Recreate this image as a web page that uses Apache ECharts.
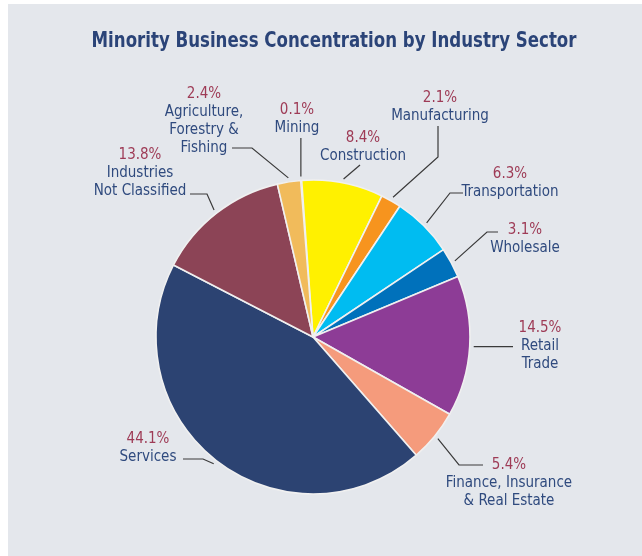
<!DOCTYPE html>
<html><head><meta charset="utf-8">
<script src="https://cdn.jsdelivr.net/npm/echarts@6/dist/echarts.min.js"></script>
<style>
html,body{margin:0;padding:0;background:#ffffff;}
#bg{position:absolute;left:8px;top:4px;width:634px;height:552px;background:#e4e7ec;}
#main{position:absolute;left:0;top:0;width:642px;height:556px;}
</style></head>
<body><div id="bg"></div><div id="main"></div>
<script>
// ---- data ----
const categories = ['Mining', 'Construction', 'Manufacturing', 'Transportation', 'Wholesale',
  'Retail\nTrade', 'Finance, Insurance\n& Real Estate', 'Services', 'Industries\nNot Classified',
  'Agriculture,\nForestry &\nFishing'];
const shares = [0.1, 8.4, 2.1, 6.3, 3.1, 14.5, 5.4, 44.1, 13.8, 2.4];
const titleText = 'Minority Business Concentration by Industry Sector';

// ---- styles ----
const sliceColors = ['#ee1d25', '#fff100', '#f7941e', '#00bcf1', '#0071bb',
  '#8d3c96', '#f59b7c', '#2c4372', '#8c4456', '#f1bb5b'];
const FONT = "'DejaVu Sans Condensed', 'Liberation Sans', sans-serif";
const LH = 18;
const FS = 15;
const CENTER = [313, 337];
const RADIUS = 157;

// ---- label layout (label block centre x, first line centre y) ----
const labelBoxes = [[297, 110], [363, 138], [440, 98], [510, 174], [525, 230],
  [540, 328], [509, 465], [148, 439], [140, 155], [204, 94]];
// guide line points after the slice end point (null = same coordinate as slice point)
const guides = [
  [[null, 138]],
  [[360, 165]],
  [[438, 157], [438, 126]],
  [[450, 193], [463, 193]],
  [[487, 232], [498, 232]],
  [[513, null]],
  [[459, 465], [483, 465]],
  [[203, 459], [183, 459]],
  [[207, 194], [190, 194]],
  [[252, 148], [232, 148]]
];

const total = shares.reduce((a, b) => a + b, 0);
const START = 94.5;
function midDir(i) {
  let before = 0;
  for (let k = 0; k < i; k++) before += shares[k];
  const ang = (START - (before + shares[i] / 2) / total * 360) * Math.PI / 180;
  return [Math.cos(ang), -Math.sin(ang)];
}

const chart = echarts.init(document.getElementById('main'), null, {renderer: 'canvas'});
chart.setOption({
  animation: false,
  graphic: [{
    type: 'text', x: 334, y: 42, scaleX: 0.88, scaleY: 1,
    style: {text: titleText, fill: '#2b4478', font: 'bold 21px ' + FONT,
      textAlign: 'center', textVerticalAlign: 'middle'}
  }],
  series: [{
    type: 'pie',
    center: CENTER,
    radius: RADIUS,
    startAngle: START,
    clockwise: true,
    avoidLabelOverlap: false,
    selectedMode: false,
    emphasis: {disabled: true},
    itemStyle: {borderColor: '#f0f0f0', borderWidth: 1.6},
    label: {
      show: true, position: 'outside', alignTo: 'none',
      formatter: function (p) {
        const lines = p.name.split('\n').map(s => '{n|' + s + '}').join('\n');
        return '{p|' + p.value.toFixed(1) + '%}\n' + lines;
      },
      rich: {
        p: {color: '#9e3b56', fontSize: FS, lineHeight: LH, fontFamily: FONT, align: 'center'},
        n: {color: '#2f4a7e', fontSize: FS, lineHeight: LH, fontFamily: FONT, align: 'center'}
      }
    },
    labelLine: {show: true, length: 10, length2: 10, smooth: false,
      lineStyle: {color: '#3a3a3a', width: 1.2}},
    labelLayout: function (params) {
      const i = params.dataIndex;
      let p0;
      const pts = params.labelLinePoints;
      if (pts && pts[0]) {
        const dx = pts[0][0] - CENTER[0], dy = pts[0][1] - CENTER[1];
        const d = Math.sqrt(dx * dx + dy * dy) || 1;
        p0 = [pts[0][0] + dx / d * 4, pts[0][1] + dy / d * 4];
      } else {
        const dir = midDir(i);
        p0 = [CENTER[0] + dir[0] * (RADIUS + 4), CENTER[1] + dir[1] * (RADIUS + 4)];
      }
      const line = [p0].concat(guides[i].map(g => [g[0] == null ? p0[0] : g[0], g[1] == null ? p0[1] : g[1]]));
      return {
        x: labelBoxes[i][0], y: labelBoxes[i][1] - LH / 2,
        align: 'center', verticalAlign: 'top',
        labelLinePoints: line
      };
    },
    data: categories.map((c, i) => ({
      name: c, value: shares[i],
      itemStyle: i === 0 ? {color: sliceColors[i], borderColor: sliceColors[i], borderWidth: 0.8}
                         : {color: sliceColors[i]}
    }))
  }]
});
</script>
</body></html>
